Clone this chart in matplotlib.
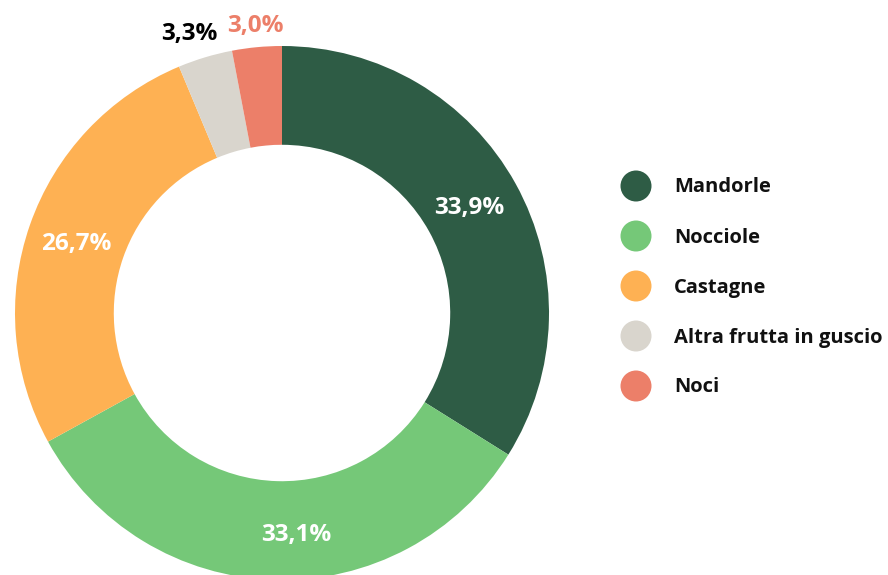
import matplotlib
matplotlib.use("Agg")
import matplotlib.pyplot as plt
from matplotlib.patches import Ellipse
import numpy as np

categories = ["Mandorle", "Nocciole", "Castagne", "Altra frutta in guscio", "Noci"]
values = [33.9, 33.1, 26.7, 3.3, 3.0]
labels = ["33,9%", "33,1%", "26,7%", "3,3%", "3,0%"]
colors = ["#2e5c45", "#75c878", "#feb153", "#d9d5cd", "#ec7f69"]

plt.rcParams['font.family'] = ['Open Sans', 'DejaVu Sans']

W, H = 888, 575
fig = plt.figure(figsize=(W / 100, H / 100), dpi=100)

# donut axes: centre (282, 313) px, radius 267 px
cx, cy, r = 282, 313, 267
ax = fig.add_axes([(cx - r) / W, (H - cy - r) / H, 2 * r / W, 2 * r / H])

wedges, _ = ax.pie(values, colors=colors, startangle=90, counterclock=False,
                   radius=1, wedgeprops=dict(width=0.37, linewidth=0))
ax.set_xlim(-1, 1)
ax.set_ylim(-1, 1)
ax.set_aspect('equal')
ax.axis('off')

# small per-label nudges (axes units) to match reference placement
nudges = [(-0.01, 0.0), (0.075, -0.015), (0.0, -0.01), (0.05, -0.01), (0.005, -0.02)]
cum = np.cumsum([0] + values)
for i, (v, lab) in enumerate(zip(values, labels)):
    mid = 90 - (cum[i] + v / 2) * 3.6
    ang = np.deg2rad(mid)
    if v > 10:
        rr = 0.815
        color = "white"
    else:
        rr = 1.1
        color = "black" if i == 3 else colors[4]
    x, y = rr * np.cos(ang), rr * np.sin(ang)
    if i == 3:
        x -= 0.08
    x += nudges[i][0]
    y += nudges[i][1]
    ax.text(x, y, lab, ha='center', va='center', fontsize=17.5,
            fontweight='bold', color=color, clip_on=False)

# legend
for i, (cat, col) in enumerate(zip(categories, colors)):
    py = 186 + 50 * i
    fig.add_artist(Ellipse((636 / W, 1 - py / H), 31 / W, 31 / H,
                           transform=fig.transFigure, facecolor=col, edgecolor='none'))
    fig.text(674 / W, 1 - (py + 1.5) / H, cat, ha='left', va='center', fontsize=14.5,
             fontweight='bold', color='#111111')

fig.savefig("out.png", dpi=100)
